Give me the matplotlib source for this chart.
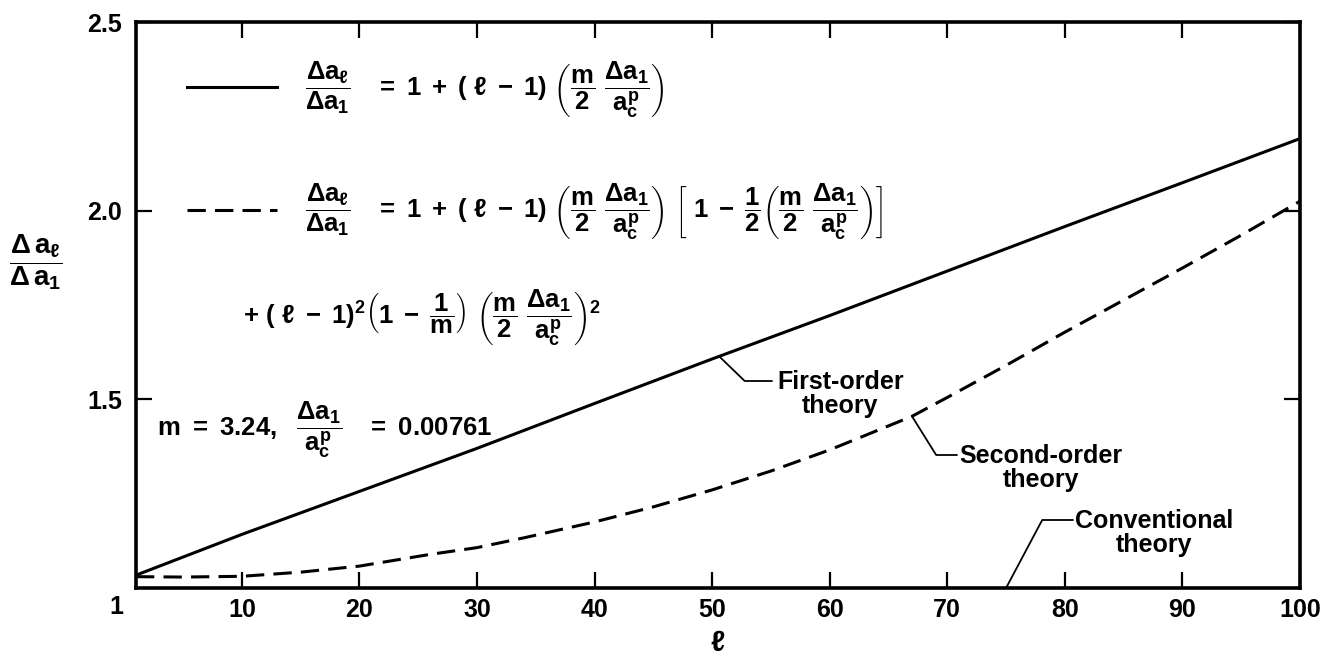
import numpy as np
import matplotlib
matplotlib.use("Agg")
import matplotlib.pyplot as plt

plt.rcParams['font.family'] = ['Liberation Sans', 'DejaVu Sans']
plt.rcParams['font.weight'] = 'bold'
plt.rcParams['mathtext.fontset'] = 'custom'
plt.rcParams['mathtext.rm'] = 'Liberation Sans:bold'
plt.rcParams['mathtext.it'] = 'Liberation Sans:bold'
plt.rcParams['mathtext.bf'] = 'Liberation Sans:bold'

# values
ell = [1, 10, 20, 30, 40, 50, 60, 70, 80, 90, 100]
first_order = [1.034, 1.142, 1.256, 1.370, 1.489, 1.607, 1.722, 1.840, 1.958, 2.074, 2.191]
ell_2 = [1, 5, 10, 15, 20, 26, 30, 34, 40, 45, 50, 55, 60, 67, 70, 75, 80, 85, 90, 95, 100]
second_order = [1.030, 1.029, 1.031, 1.042, 1.058, 1.089, 1.107, 1.133, 1.175, 1.215,
                1.260, 1.310, 1.366, 1.455, 1.505, 1.590, 1.678, 1.763, 1.848, 1.935, 2.025]
ell_conv = [1, 100]
conventional = [1.0, 1.0]

x_ticks = [10, 20, 30, 40, 50, 60, 70, 80, 90, 100]
y_ticks = [1.5, 2.0, 2.5]
y_tick_labels = ['1.5', '2.0', '2.5']

W, H = 1338, 657
fig = plt.figure(figsize=(W / 100, H / 100), dpi=100)
ax = fig.add_axes([136 / W, 1 - 588 / H, (1300 - 136) / W, (588 - 22) / H])

ax.plot(ell_conv, conventional, color='black', lw=2.2, solid_capstyle='butt')
ax.plot(ell, first_order, color='black', lw=2.2)
ax.plot(ell_2, second_order, color='black', lw=2.2, dashes=(6, 3))

ax.set_xlim(1, 100)
ax.set_ylim(1.0, 2.5)
ax.set_xticks(x_ticks)
ax.set_yticks(y_ticks)
ax.set_yticklabels(y_tick_labels)
ax.tick_params(direction='in', top=True, right=True, length=11.5, width=1.6,
               labelsize=18)
ax.tick_params(axis='x', pad=7)
ax.tick_params(axis='y', pad=10)
for s in ax.spines.values():
    s.set_linewidth(2.6)

# the "1" at the lower left corner
ax.annotate('1', xy=(1, 0), xycoords=('data', 'axes fraction'),
            xytext=(-14, -14), textcoords='offset points',
            ha='center', va='center', fontsize=18)

fig.text(718 / W, 1 - 643 / H, r'$\ell$', fontsize=21, ha='center', va='center')
fig.text(36 / W, 1 - 262 / H, r'$\dfrac{\Delta\, a_{\ell}}{\Delta\, a_{1}}$',
         fontsize=20, ha='center', va='center')

# equations
frac_ap = r'\dfrac{\Delta a_{1}}{a_{c}^{p}}'
lhs = r'\dfrac{\Delta a_{\ell}}{\Delta a_{1}}\ \ \ =\ 1\;+\;(\ \ell\;-\;1)\ '
eq1 = r'$' + lhs + r'\left(\dfrac{m}{2}\ ' + frac_ap + r'\right)$'
eq2 = (r'$' + lhs + r'\left(\dfrac{m}{2}\ ' + frac_ap + r'\right)\ '
       r'\left[\ 1\;-\;\dfrac{1}{2}\left(\dfrac{m}{2}\ ' + frac_ap + r'\right)\right]$')
eq3 = (r'$+\ (\ \ell\;-\;1)^{2}\left(1\;-\;\dfrac{1}{m}\right)\ '
       r'\left(\dfrac{m}{2}\ ' + frac_ap + r'\right)^{2}$')
eq4 = r'$m\ =\ 3.24,\ \ ' + frac_ap + r'\ \ \ =\ 0.00761$'

fig.text(305 / W, 1 - 90 / H, eq1, fontsize=18.5, ha='left', va='center')
fig.text(305 / W, 1 - 212 / H, eq2, fontsize=18.5, ha='left', va='center')
fig.text(243 / W, 1 - 318 / H, eq3, fontsize=18.5, ha='left', va='center')
fig.text(157 / W, 1 - 430 / H, eq4, fontsize=18.5, ha='left', va='center')

# legend samples
leg1 = ax.plot([187 / W, 277 / W], [1 - 87 / H, 1 - 87 / H], transform=fig.transFigure,
               color='black', lw=2.2)
leg2 = ax.plot([187 / W, 277 / W], [1 - 210 / H, 1 - 210 / H], transform=fig.transFigure,
               color='black', lw=2.2, dashes=(6, 3))
for l in leg1 + leg2:
    l.set_clip_on(False)


# leaders and labels
def leader(x, y, tx, ty, ang):
    ax.annotate('', xy=(x, y), xytext=(tx, H - ty), textcoords='figure pixels',
                arrowprops=dict(arrowstyle='-', lw=1.3, color='black',
                                shrinkA=0, shrinkB=0,
                                connectionstyle='angle,angleA=0,angleB=%g,rad=0' % ang))


leader(50.6, np.interp(50.6, ell, first_order), 772, 381, -44)
fig.text(777 / W, 1 - 394 / H, 'First-order\ntheory', fontsize=18, ha='left', va='center',
         multialignment='center', linespacing=1.0)

leader(67, np.interp(67, ell_2, second_order), 957, 455, -58)
fig.text(959 / W, 1 - 468 / H, 'Second-order\ntheory', fontsize=18, ha='left', va='center',
         multialignment='center', linespacing=1.0)

leader(75, conventional[0], 1073, 520, 62)
fig.text(1075 / W, 1 - 533 / H, 'Conventional\ntheory', fontsize=18, ha='left', va='center',
         multialignment='center', linespacing=1.0)

fig.savefig('out.png', dpi=100)
